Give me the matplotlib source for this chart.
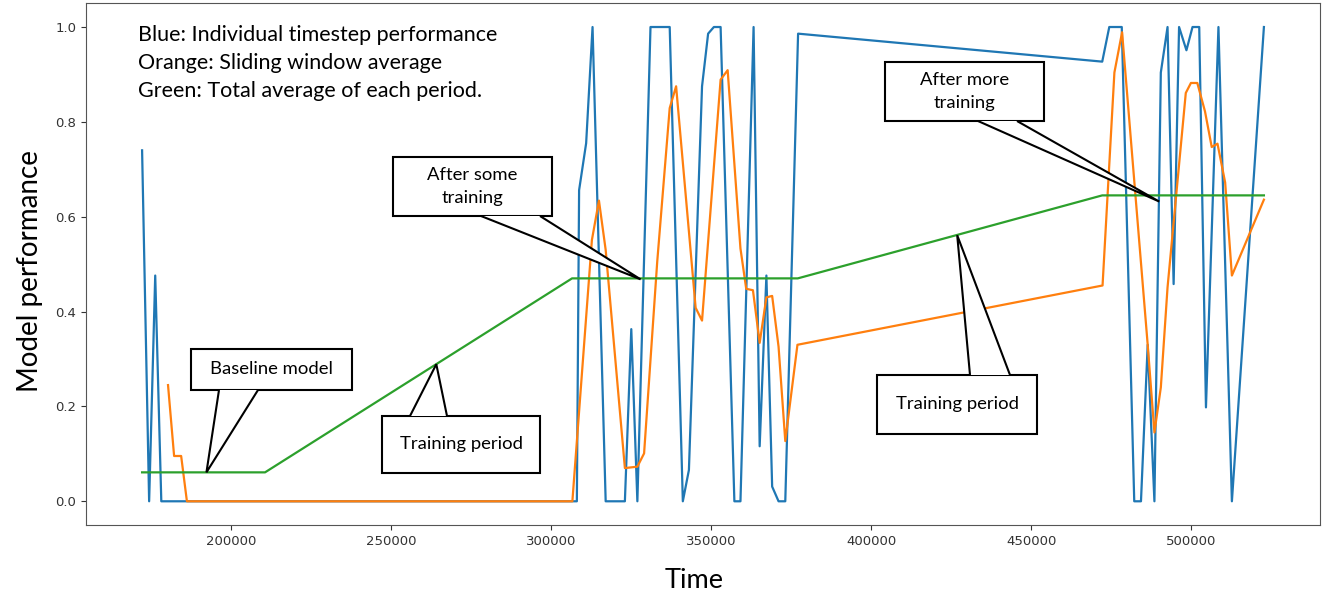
import numpy as np
import matplotlib
matplotlib.use("Agg")
import matplotlib.pyplot as plt
from matplotlib.patches import Rectangle, Polygon

# individual timestep performance (blue)
blue_t = [172300, 174500, 176400, 178300, 210700,
          308100, 308800, 311000, 313000, 317100, 323100, 325100, 327000, 331100, 337100,
          341200, 343100, 347200, 349100, 350900, 353000, 357300, 359200, 363300, 365200,
          367300, 369100, 371100, 373200, 377200,
          472200, 474400, 478300, 482200, 484300, 486400, 488500, 490500, 492600, 494500,
          496200, 498500, 500400, 502500, 504600, 508500, 512700, 522700]
blue_v = [0.74, 0.0, 0.476, 0.0, 0.0,
          0.0, 0.656, 0.755, 1.0, 0.0, 0.0, 0.363, 0.0, 1.0, 1.0,
          0.0, 0.066, 0.875, 0.986, 1.0, 1.0, 0.0, 0.0, 1.0, 0.116,
          0.476, 0.031, 0.0, 0.0, 0.986,
          0.927, 1.0, 1.0, 0.0, 0.0, 0.33, 0.0, 0.904, 1.0, 0.458,
          1.0, 0.951, 1.0, 1.0, 0.198, 1.0, 0.0, 1.0]

# sliding window average (orange)
orange_t = [180400, 182300, 184500, 186300, 306700,
            312800, 315000, 317100, 323100, 327000, 329100, 333200, 337100, 339100, 345200,
            347200, 353000, 355200, 359200, 361000, 363100, 365200, 367300, 369100, 371100,
            373200, 377000,
            472300, 476000, 478400, 486400, 488500, 490500, 492600, 498300, 499900, 501900,
            504300, 506400, 508200, 510600, 512700, 522700]
orange_v = [0.245, 0.0955, 0.0955, 0.0, 0.0,
            0.551, 0.634, 0.53, 0.070, 0.073, 0.101, 0.505, 0.829, 0.875, 0.408,
            0.381, 0.889, 0.909, 0.533, 0.448, 0.445, 0.334, 0.430, 0.433, 0.326,
            0.127, 0.330,
            0.455, 0.904, 0.989, 0.33, 0.145, 0.24, 0.451, 0.861, 0.882, 0.882,
            0.822, 0.747, 0.754, 0.672, 0.476, 0.636]

# total average of each period (green)
green_t = [172300, 210700, 306600, 377100, 472200, 522700]
green_v = [0.061, 0.061, 0.470, 0.470, 0.645, 0.645]

legend_lines = ["Blue: Individual timestep performance",
                "Orange: Sliding window average",
                "Green: Total average of each period."]

# callouts: text, box (x0, y0, x1, y1 in px), wedge base x's (px), side, tip (data)
callouts = [
    ("Baseline model", (191, 349, 352, 390), (219, 258), "bottom", (192400, 0.061)),
    ("Training period", (382, 416, 540, 473), (410, 447), "top", (264200, 0.289)),
    ("After some\ntraining", (393, 157, 552, 216), (481, 540), "bottom", (328000, 0.468)),
    ("After more\ntraining", (885, 62, 1044, 121), (978, 1017), "bottom", (490000, 0.632)),
    ("Training period", (877, 375, 1037, 434), (970, 1010), "top", (426900, 0.561)),
]

W, H = 1333, 597
UI = ["Lato", "DejaVu Sans"]

fig = plt.figure(figsize=(W / 100, H / 100), dpi=100)
ax = fig.add_axes([86 / W, (H - 525) / H, (1320 - 86) / W, (525 - 3.3) / H])
ax.plot(blue_t, blue_v, color="#1f77b4", lw=1.6)
ax.plot(orange_t, orange_v, color="#ff7f0e", lw=1.6)
ax.plot(green_t, green_v, color="#2ca02c", lw=1.6)
ax.set_yticks([0.0, 0.2, 0.4, 0.6, 0.8, 1.0])
ax.tick_params(labelsize=9.5, labelcolor="#333333", color="#333333")
for s in ax.spines.values():
    s.set_color("#555555")
ax.set_xlabel("Time", family=UI, fontsize=19.5)
ax.set_ylabel("Model performance", family=UI, fontsize=20)
ax.xaxis.set_label_coords((694 - 86) / 1234, (525 - 580) / 521.7)
ax.yaxis.set_label_coords((30 - 86) / 1234, (525 - 271) / 521.7)
ax.xaxis.label.set_va("center")
ax.yaxis.label.set_va("center")
ax.get_xlim(); ax.get_ylim()

ov = fig.add_axes([0, 0, 1, 1], zorder=5)
ov.set_xlim(0, W); ov.set_ylim(H, 0); ov.set_axis_off(); ov.patch.set_alpha(0)


def to_px(pt):
    return ov.transData.inverted().transform(ax.transData.transform(pt))


for i, line in enumerate(legend_lines):
    ov.text(138, 35 + 28 * i, line, family=UI, fontsize=15.5, va="center", ha="left")

for text, (x0, y0, x1, y1), (b0, b1), side, tip in callouts:
    tx, ty = to_px(tip)
    by = y1 if side == "bottom" else y0
    ov.add_patch(Rectangle((x0, y0), x1 - x0, y1 - y0, facecolor="white",
                           edgecolor="black", lw=1.5))
    ov.add_patch(Polygon([(b0, by), (tx, ty), (b1, by)], closed=False, facecolor="white",
                         edgecolor="black", lw=1.5))
    ov.text((x0 + x1) / 2, (y0 + y1) / 2, text, family=UI, fontsize=13.3,
            ha="center", va="center", linespacing=1.55)

fig.savefig("out.png", dpi=100)
